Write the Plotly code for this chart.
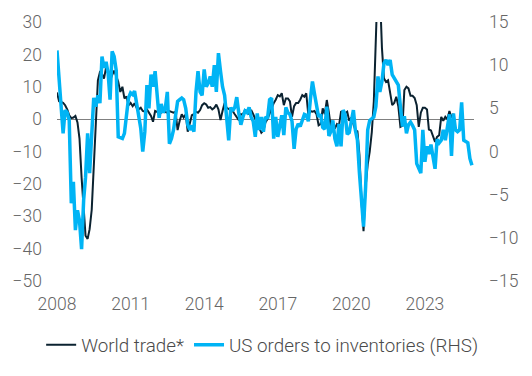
import plotly.graph_objects as go
import pandas as pd

# World trade* (LHS), monthly from Jan 2008
world_trade = [
    8.2, 5.5, 5.3, 5, 4.3, 3, 1.2, 0.3, 0.5, 1,
    -1, -6, -18, -29, -36, -37, -34, -28, -15, 0,
    12, 14.5, 14, 12.5, 16, 14, 12, 13.6, 15, 13.3,
    11.5, 8.4, 10, 6.4, 7, 4.3, 5, 4, 4.9, 3.5,
    3, 3.5, 2.5, 2.3, 3, 2, 1, -0.8, 2.5, 2.2,
    2.5, 2, 2.3, 2.2, 2, 2.5, 2.2, 2, 2.3, -3.4,
    -0.5, 1.5, 0.5, 1.5, -3.9, -1.5, 1.2, 1.5, 2.3, 2,
    2.8, 4.3, 4.9, 4.5, 3.5, 3.7, 3, 3.5, 4.5, 3,
    -0.3, 2.5, 5, 3.5, 3.2, 3, 2.5, 1.5, 0.5, -0.3,
    1.5, 1.5, 2.8, 2.5, 1.5, 2.8, 1.5, 0, -1, -2.5,
    -4.2, -3.5, -1, 0, 1.8, 3, 4.9, 6, 7.4, 7,
    8, 4.3, 6.4, 6.4, 5.5, 0.7, 4, 5, 5, 6,
    7.4, 6.9, 8, 1.2, 2.5, 2.3, 2.5, 1.5, -1.9, -1.5,
    3.3, 1.5, 5.9, 2, -2.4, -2, -2.9, -1.5, -2, 2.3,
    2.5, 1.8, 2.3, -0.5, 0.5, -1.5, -3.4, -3.8, -11, -25.5,
    -34.6, -21, -14, -10, -4, 5.4, 25, 45, 40, 22,
    12.6, 11.5, 12, 8.4, 4.3, 5, 6.9, 4, -2.4, -2,
    9, 10, 9.5, 7.2, 7.2, 6.5, 4.3, -2.4, 2, 3.5,
    3.5, 3, -3.2, -3.5, -5, -7, -5.5, -5, 0.7, -0.5,
    0.7, 0, 2.5, 0.5, 1.7,
]

# US orders to inventories (RHS), monthly from Jan 2008
us_orders_inventories = [
    11.7, 8, 4.8, 2.1, 4.8, 4.5, 3.6, -6, -3.5, -9.1,
    -6.8, -8, -11.3, -5.6, -3, 2.1, -2.5, 2, 6.2, 5.2,
    6.5, 5.6, 11, 9.7, 10.4, 9, 6, 11.6, 11, 9.4,
    1.7, 1.6, 1.5, 2.1, 4.6, 6.2, 6.8, 6.6, 7, 5.6,
    4.3, 2.7, 0, 2.3, 7.7, 5, 8.9, 7.5, 9.3, 5.8,
    3.9, 5.5, 4.5, 5, 6.9, 0.9, 1.5, 2.5, 4.2, 5.8,
    6, 6.2, 6, 5, 3.1, 2.5, 3, 2.3, 6.9, 9.3,
    6.9, 6.5, 9.5, 7.5, 7.9, 8.7, 7.5, 10, 6.9, 11.4,
    9.3, 7.5, 6.5, 3.4, 1.3, 5.1, 4.7, 5.1, 6.3, 4.4,
    3.1, 4, 4.7, 4.5, 5.1, 4, 3.5, 1.7, 4.4, 2.5,
    4, 2.3, 4, 3.8, 6, 6.2, 1.5, 4, 1.7, 3,
    4.2, 1.9, 5.1, 4.5, 4.3, 3.5, 0.3, 2.6, 3.2, 2.9,
    3.6, 4.3, 4.2, 3.5, 6, 8.1, 6.7, 5.2, 4, 4.3,
    2.8, 2.6, 5.2, 1.8, 2.3, 3.6, 1.5, 0.6, 3.2, 0.6,
    4.8, 4.3, 2, 2.2, 3.6, 4.8, 2.5, 1.3, -2.5, -5.6,
    -8.7, -4.1, 2.5, 3.6, 3.8, 4, 5.2, 8.7, 6.9, 8.1,
    10.2, 10.6, 10, 10.6, 8.9, 8.5, 8.1, 7.7, 5.2, 2.9,
    4.1, 2.1, 3.1, 3.4, 3, 2.5, -1.4, -2, -2.5, 2.5,
    -1.2, 0.6, -0.3, 0.8, -0.5, -2, 1.4, 1, 1.3, 2.5,
    1.3, 2.9, 4.3, -0.5, 4.4, 2.5, 2.3, 2.5, 5.7, 1.3,
    1.1, 1, -0.8, -1.6,
]

start_date = "2008-01-01"
x_range = ["2008-01-01", "2025-01-01"]
left_ticks = [30, 20, 10, 0, -10, -20, -30, -40, -50]
right_ticks = [15, 10, 5, 0, -5, -10, -15]

wt_dates = pd.date_range(start_date, periods=len(world_trade), freq="MS")
us_dates = pd.date_range(start_date, periods=len(us_orders_inventories), freq="MS")

TICK_FONT = dict(family="Roboto", size=17.5, color="#666666", weight=300)

fig = go.Figure()
fig.add_trace(go.Scatter(
    x=wt_dates, y=world_trade, name="World trade*", mode="lines",
    line=dict(color="#0B2230", width=2), yaxis="y",
))
fig.add_trace(go.Scatter(
    x=us_dates, y=us_orders_inventories, name="US orders to inventories (RHS)",
    mode="lines", line=dict(color="#00B4F5", width=3.5), yaxis="y2",
))

fig.update_layout(
    width=532, height=376,
    margin=dict(l=57, r=58, t=22, b=95, autoexpand=False),
    paper_bgcolor="white", plot_bgcolor="white",
    showlegend=True,
    legend=dict(
        orientation="h", x=-0.038, xanchor="left", y=-0.247, yanchor="middle",
        font=dict(family="Roboto", size=18.8, color="#4a4a4a", weight=300),
        itemwidth=30, bgcolor="rgba(0,0,0,0)",
    ),
    xaxis=dict(
        type="date", range=x_range, tick0="2008-01-01", dtick="M36",
        tickformat="%Y", showgrid=False, showline=False, zeroline=False,
        ticks="", tickfont=TICK_FONT, ticklabelstandoff=10,
    ),
    yaxis=dict(
        range=[-50, 30], tickvals=left_ticks, showgrid=False, showline=False,
        zeroline=True, zerolinecolor="#808080", zerolinewidth=1,
        ticks="", tickfont=TICK_FONT, ticklabelstandoff=14,
    ),
    yaxis2=dict(
        range=[-15, 15], tickvals=right_ticks, overlaying="y", side="right",
        showgrid=False, showline=False, zeroline=False,
        ticks="", tickfont=TICK_FONT, ticklabelstandoff=14,
    ),
)

fig.write_html(
    "out.html",
    config={"displayModeBar": False},
    post_script="document.body.style.margin='0';",
)
